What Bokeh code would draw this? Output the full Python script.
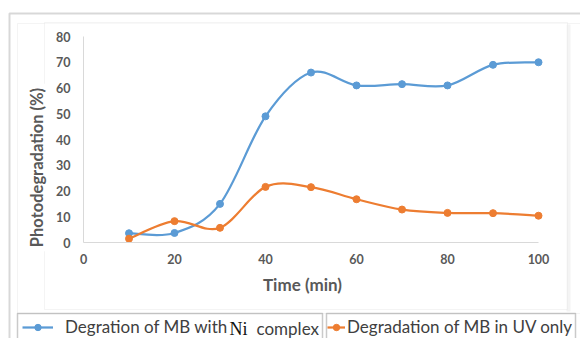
import math
import numpy as np
from bokeh.plotting import figure
from bokeh.models import Range1d, Label, BoxAnnotation, Legend, LegendItem
from bokeh.embed import file_html
from bokeh.resources import INLINE

# ---------------- data ----------------
time_min = [10, 20, 30, 40, 50, 60, 70, 80, 90, 100]
ni_complex = [3.6, 3.7, 15, 49, 66, 61, 61.5, 61, 69, 70]
uv_only = [1.5, 8.3, 5.7, 21.6, 21.5, 16.8, 12.8, 11.5, 11.4, 10.4]
x_ticks = [0, 20, 40, 60, 80, 100]
y_ticks = [0, 10, 20, 30, 40, 50, 60, 70, 80]
legend_ni_text = "Degration of MB with"
legend_ni_species = "Ni"
legend_ni_tail = "complex"
legend_uv_text = "Degradation of MB in UV only"
x_title = "Time (min)"
y_title = "Photodegradation (%)"

BLUE = "#5b9bd5"
ORANGE = "#ed7d31"
TICK_GREY = "#595959"

# ---------------- layout (pixels) ----------------
W, H = 580, 338
# pixel positions of the plot area (x 0..100, y 0..80)
PX0, PX1, PY0, PY1 = 83, 538, 242, 36
XMIN, XMAX, YMIN, YMAX = 0, 100, 0, 80
kx = (PX1 - PX0) / (XMAX - XMIN)
ky = (PY0 - PY1) / (YMAX - YMIN)
x_range = Range1d(XMIN - PX0 / kx, XMAX + (W - PX1) / kx)
y_range = Range1d(YMIN - (H - PY0) / ky, YMAX + PY1 / ky)


def sx(px):
    return px


def sy(py):
    return H - py


p = figure(width=W, height=H, x_range=x_range, y_range=y_range,
           output_backend="svg", toolbar_location=None,
           min_border=0)
p.outline_line_color = None
p.background_fill_color = "white"
p.border_fill_color = "white"
p.xgrid.visible = False
p.ygrid.visible = False

p.xaxis.fixed_location = 0
p.yaxis.fixed_location = 0
p.xaxis.bounds = (XMIN, XMAX)
p.yaxis.bounds = (YMIN, YMAX)
for ax in (p.xaxis[0], p.yaxis[0]):
    ax.major_tick_line_color = None
    ax.minor_tick_line_color = None
    ax.major_tick_out = 0
    ax.major_tick_in = 0
    ax.axis_line_color = "#d9d9d9"
    ax.axis_line_width = 1
    ax.major_label_text_font = "Lato"
    ax.major_label_text_font_style = "bold"
    ax.major_label_text_font_size = "12.5px"
    ax.major_label_text_color = TICK_GREY
p.xaxis.ticker = x_ticks
p.yaxis.ticker = y_ticks
p.xaxis.major_label_standoff = 11
p.yaxis.major_label_standoff = 13


# ---------------- smoothed curves (Excel-like) ----------------
def smooth(xs, ys):
    xs = np.asarray(xs, float)
    ys = np.asarray(ys, float)
    n = len(xs)
    qx = np.concatenate([[xs[0]], xs, [xs[-1]]])
    qy = np.concatenate([[ys[0]], ys, [ys[-1]]])
    cx0 = qx[1:n] + (qx[2:n + 1] - qx[0:n - 1]) / 6
    cy0 = qy[1:n] + (qy[2:n + 1] - qy[0:n - 1]) / 6
    cx1 = qx[2:n + 1] - (qx[3:n + 2] - qx[1:n]) / 6
    cy1 = qy[2:n + 1] - (qy[3:n + 2] - qy[1:n]) / 6
    return dict(x0=xs[:-1], y0=ys[:-1], x1=xs[1:], y1=ys[1:],
                cx0=cx0, cy0=cy0, cx1=cx1, cy1=cy1)


b1 = p.bezier(**smooth(time_min, ni_complex), line_color=BLUE, line_width=2.25)
s1 = p.scatter(time_min, ni_complex, size=7, color=BLUE)
b2 = p.bezier(**smooth(time_min, uv_only), line_color=ORANGE, line_width=2.25)
s2 = p.scatter(time_min, uv_only, size=7, color=ORANGE)


# ---------------- frames / boxes ----------------
def box(l, t, r, b, **kw):
    return BoxAnnotation(left=sx(l), right=sx(r), top=sy(t), bottom=sy(b),
                         left_units="screen", right_units="screen",
                         top_units="screen", bottom_units="screen", **kw)


p.add_layout(box(9, 13, 620, 400, fill_color=None, line_color="#7f7f7f",
                 line_width=2, level="underlay"))
p.add_layout(box(17, 23, 620, 313, fill_color=None, line_color="#d9d9d9",
                 line_width=1, level="underlay"))
p.add_layout(box(566, 24, 570, 311, fill_color="#e3e3e3", line_color=None,
                 level="underlay"))
p.add_layout(box(44, 22, 567, 309, fill_color="white", line_color="#d9d9d9",
                 line_width=1, level="underlay"))
p.add_layout(box(17, 313, 322, 400, fill_color=None, line_color="#505050",
                 line_width=1.5, level="underlay"))
p.add_layout(box(326, 313, 575, 400, fill_color=None, line_color="#505050",
                 line_width=1.5, level="underlay"))

# ---------------- axis titles ----------------
p.add_layout(Label(x=sx(302), y=sy(284), x_units="screen", y_units="screen",
                   text=x_title, text_align="center", text_baseline="middle",
                   text_font="Lato", text_font_style="bold", text_font_size="17px",
                   text_color=TICK_GREY))
p.add_layout(Label(x=sx(36), y=sy(167), x_units="screen", y_units="screen",
                   text=y_title, angle=math.pi / 2, text_align="center",
                   text_baseline="middle", text_font="Lato", text_font_style="bold",
                   text_font_size="16.5px", text_color=TICK_GREY,
                   background_fill_color="white", padding=4))

# ---------------- legends ----------------
common = dict(padding=0, margin=0, spacing=0, glyph_height=16, label_height=16,
              background_fill_alpha=0, border_line_alpha=0,
              label_text_font="Lato", label_text_font_size="17px",
              label_text_color="#404040")
leg1 = Legend(items=[LegendItem(label=legend_ni_text, renderers=[b1, s1])],
              location=(sx(22), sy(337)), glyph_width=31, label_standoff=12, **common)
leg2 = Legend(items=[LegendItem(label=legend_uv_text, renderers=[b2, s2])],
              location=(sx(327), sy(337)), glyph_width=18, label_standoff=2, **common)
p.add_layout(leg1)
p.add_layout(leg2)

p.add_layout(Label(x=sx(229), y=sy(328), x_units="screen", y_units="screen",
                   text=legend_ni_species, text_baseline="middle",
                   text_font="Liberation Serif", text_font_size="18px",
                   text_color="#111111"))
p.add_layout(Label(x=sx(256), y=sy(328), x_units="screen", y_units="screen",
                   text=legend_ni_tail, text_baseline="middle",
                   text_font="Lato", text_font_size="17px",
                   text_color="#404040"))

open("out.html", "w").write(file_html(p, INLINE))
